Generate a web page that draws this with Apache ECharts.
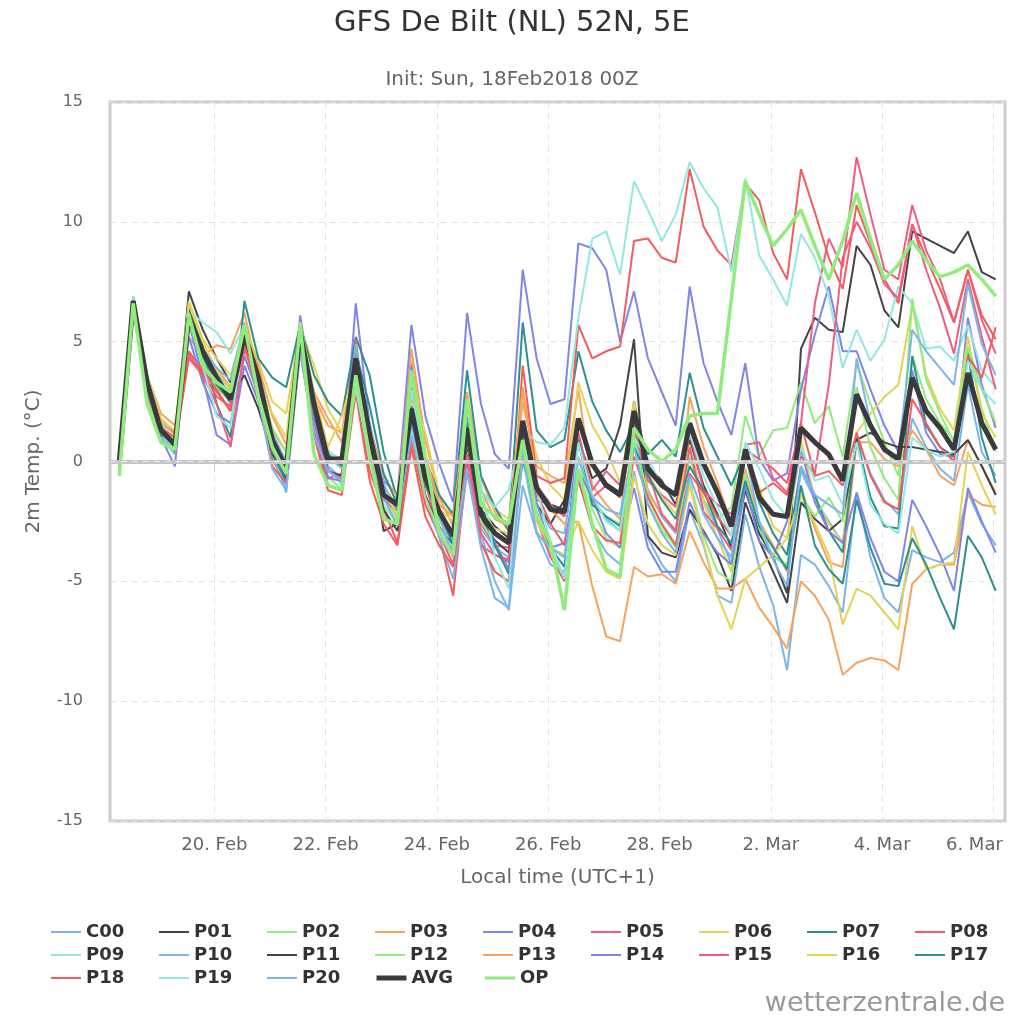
<!DOCTYPE html>
<html><head><meta charset="utf-8">
<script src="https://cdn.jsdelivr.net/npm/echarts@6/dist/echarts.min.js"></script>
<style>html,body{margin:0;padding:0;background:#fff}#c{width:1024px;height:1024px}</style>
</head><body><div id="c"></div>
<script>
// Init 18 Feb 2018 00Z = 01:00 local (UTC+1); x axis in hours since 18 Feb 00:00 local
const initLocalHour = 1;
const stepHours = 6;
const nSteps = 64;
const xTickHours = [48, 96, 144, 192, 240, 288, 336, 384];
const xTickLabels = ['20. Feb', '22. Feb', '24. Feb', '26. Feb', '28. Feb', '2. Mar', '4. Mar', '6. Mar'];

const C00 = [-0.2,6.8,3.0,1.1, 0.6,5.8,4.3,3.3, 2.4,5.0,3.9,1.2, 0.0,5.2,2.0,0.2, -0.3,4.6,1.0,-1.6, -2.0,2.8,-0.6,-2.4, -3.3,1.0,-2.8,-3.6, -4.0,1.2,-1.8,-2.8, -3.0,0.8,-1.5,-2.4, -2.9,1.2,-1.2,-2.3, -3.0,0.6,-1.6,-2.8, -4.3,-1.2,-3.0,-3.9, -4.4,-0.4,-1.6,-2.5, -3.4,1.0,-0.5,-1.6, -2.2,1.8,0.6,-0.3, -0.8,3.2,0.4,-0.6];
const P01 = [0.0,6.8,3.4,1.2, 0.7,7.1,5.5,4.3, 3.3,5.0,3.0,0.7, -0.5,5.6,2.3,0.0, 0.2,4.0,1.0,-2.9, -2.6,2.0,-0.8,-2.3, -3.0,1.0,-2.0,-2.7, -3.2,1.5,-1.0,-1.8, -2.0,1.6,0.0,-0.9, -1.3,2.5,-0.2,-0.8, -1.8,0.9,-1.0,-2.2, -3.6,-1.2,-3.0,-4.0, -5.5,4.7,6.0,5.5, 5.4,9.0,8.2,6.3, 5.6,9.6,9.3,9.0, 8.7,9.6,7.9,7.6];
const P02 = [-0.3,6.5,2.8,0.9, 0.5,6.0,4.2,3.1, 2.5,5.5,3.2,0.4, -0.6,5.9,1.8,-0.6, -1.2,4.5,0.6,-1.9, -2.5,3.6,-0.2,-2.4, -3.6,1.9,-1.6,-3.0, -3.3,0.4,-2.3,-3.6, -3.9,0.2,-2.0,-3.2, -3.6,0.8,-1.7,-2.9, -3.5,0.2,-1.6,-2.4, -1.9,1.9,0.2,1.3, 1.4,3.3,1.6,2.3, 0.2,4.1,2.4,0.8, -0.6,4.4,2.6,1.6, 0.9,4.6,2.2,0.4];
const P03 = [-0.1,6.6,3.6,2.0, 1.5,5.2,4.4,4.85, 4.7,6.2,3.6,1.3, 0.4,5.3,2.7,1.5, 1.2,4.8,0.8,-1.0, -1.9,4.7,0.9,-1.5, -2.7,2.9,-0.7,-2.1, -2.9,2.5,-0.2,-0.6, -0.9,3.0,-1.0,-1.8, -2.4,2.4,-1.3,-2.2, -2.9,2.7,0.6,-0.9, -2.6,-0.3,-2.5,-3.5, -4.6,-1.1,-2.8,-4.2, -4.4,0.8,0.8,0.1, -0.2,1.3,0.5,-0.6, -1.0,0.9,-0.2,-1.3];
const P04 = [-0.2,6.9,3.2,1.0, -0.2,5.8,3.5,1.1, 0.7,4.0,2.5,0.3, -0.8,6.1,2.5,-0.3, -0.9,6.6,1.5,-0.8, -1.4,5.7,1.9,-0.1, -1.7,6.2,2.4,0.3, -0.3,8.0,4.3,2.4, 2.6,9.1,8.9,8.0, 5.0,7.1,4.3,2.9, 1.5,7.3,4.1,2.5, 1.1,4.1,0.1,-0.8, -0.5,3.0,5.3,7.3, 4.6,4.6,3.0,1.5, 0.4,3.8,1.2,0.3, 0.2,6.0,3.2,1.4];
const P05 = [-0.1,6.4,3.0,1.5, 0.9,4.5,3.9,2.9, 2.1,5.2,3.0,0.2, -0.9,5.5,1.5,-0.7, -0.5,4.9,0.8,-1.3, -2.2,2.7,-0.9,-3.0, -4.3,0.6,-2.6,-3.5, -3.6,1.4,-1.6,-1.8, -2.3,1.0,-1.5,-1.0, -1.5,1.4,-0.8,-1.4, -1.9,1.2,-1.2,-1.8, -2.2,0.5,0.1,-0.3, -0.9,1.6,6.6,9.3, 8.1,12.7,10.3,8.0, 7.6,10.7,8.8,7.6, 5.8,8.0,5.9,4.5];
const P06 = [-0.2,6.5,3.6,1.8, 1.2,6.7,5.1,4.3, 3.6,5.6,4.2,2.5, 2.0,5.6,4.0,2.2, 1.2,3.4,0.4,-1.5, -2.4,2.9,1.2,-1.4, -2.3,1.6,-1.2,-2.0, -2.4,2.9,0.2,-1.0, -1.6,3.3,1.5,0.5, -0.9,2.5,-0.5,-1.5, -2.2,0.7,-1.7,-3.2, -4.6,0.3,-1.1,-2.7, -3.2,0.9,-1.6,-2.6, -3.4,1.2,2.0,2.7, 3.2,6.5,3.6,2.2, 1.3,5.2,2.0,1.0];
const P07 = [0.0,6.7,3.4,1.5, 0.8,6.4,4.8,2.4, 1.0,6.7,4.3,3.5, 3.1,5.7,3.6,2.5, 1.9,5.2,3.6,0.4, -1.6,3.9,0.1,-1.4, -2.2,3.8,-0.6,-1.9, -2.9,5.8,1.3,0.6, 0.9,4.6,2.5,1.3, 0.4,1.5,0.3,0.9, 0.2,3.7,1.4,0.2, -1.0,0.4,-1.7,-3.0, -3.9,-0.2,-1.4,-2.9, -3.8,1.0,-1.5,-2.7, -2.8,4.4,1.5,0.6, 0.2,4.5,1.0,-0.9];
const P08 = [0.0,6.6,3.3,1.6, 1.2,4.6,3.8,3.0, 2.1,4.9,2.6,0.1, -1.0,5.0,1.4,-1.0, -1.2,3.2,-0.4,-2.0, -3.4,0.9,-1.8,-3.1, -5.6,-0.1,-3.5,-3.9, -4.2,4.0,-0.6,-0.9, -0.7,5.7,4.3,4.6, 4.8,9.2,9.3,8.5, 8.3,12.2,9.8,8.8, 8.2,11.6,10.9,8.7, 7.6,12.2,10.4,8.5, 7.2,10.7,9.1,7.6, 6.6,9.9,8.5,7.2, 5.8,8.0,6.1,5.1];
const P09 = [-0.3,6.9,3.6,1.6, 0.9,6.3,5.8,5.4, 4.5,5.7,3.0,0.3, -1.1,5.8,1.5,-0.3, -1.0,3.2,0.0,-1.8, -2.6,1.4,-1.5,-2.8, -3.0,0.5,-1.2,-1.9, -1.2,1.4,0.8,0.7, 1.4,6.0,9.3,9.6, 7.8,11.7,10.5,9.2, 10.3,12.5,11.4,10.6, 7.9,11.8,8.6,7.6, 6.5,9.5,8.5,6.9, 3.9,5.5,4.2,5.1, 7.3,6.6,4.7,4.8, 4.2,5.7,3.8,3.1];
const P10 = [-0.1,6.6,3.1,1.0, 0.3,5.9,4.5,3.7, 3.0,5.1,3.6,0.5, -1.3,5.5,1.9,-0.2, -0.7,4.0,1.6,-0.9, -2.3,1.1,-1.4,-3.2, -4.9,-0.5,-3.0,-5.0, -6.2,-1.0,-3.0,-4.3, -4.6,-0.6,-2.8,-3.8, -4.3,-0.4,-3.2,-4.3, -5.0,-2.0,-3.5,-5.6, -5.9,-2.2,-4.4,-6.0, -8.7,-3.9,-4.3,-5.2, -6.3,-1.3,-4.0,-5.7, -6.3,-3.7,-4.0,-4.2, -3.8,-1.3,-2.6,-3.5];
const P11 = [0.0,6.6,3.0,1.1, 0.8,6.3,4.6,3.4, 2.8,3.6,2.2,0.3, -0.7,5.0,1.9,-0.4, -0.6,3.8,0.6,-2.0, -2.9,1.8,-1.4,-2.8, -3.5,0.7,-2.4,-3.3, -3.8,1.0,-1.8,-2.6, -1.6,0.9,-0.7,-0.3, 1.5,5.1,-3.1,-3.8, -4.0,-2.0,-2.9,-3.9, -5.4,-1.7,-3.3,-4.6, -5.9,-1.7,-2.4,-2.9, -2.4,0.9,1.2,0.8, 0.6,0.6,0.5,0.4, 0.3,0.9,-0.2,-1.4];
const P12 = [-0.4,6.5,2.6,0.8, 0.4,5.7,4.5,3.4, 2.7,5.4,3.5,1.4, 0.4,4.9,2.5,0.5, -0.3,3.7,1.0,-1.5, -2.3,1.7,-1.5,-2.9, -4.0,1.0,-2.5,-3.4, -4.5,0.1,-2.9,-3.8, -4.8,0.2,-1.6,-2.3, -2.6,1.0,-1.4,-2.7, -3.6,-0.8,-3.1,-4.6, -5.0,-0.5,-2.8,-4.0, -4.3,-1.4,-2.3,-1.5, -2.5,3.1,0.6,-0.7, -1.6,6.8,3.4,2.0, 0.8,4.8,3.0,1.6];
const P13 = [-0.3,6.7,3.4,1.7, 1.1,6.2,4.6,3.9, 3.1,5.4,4.0,1.9, 0.7,5.0,2.9,1.8, 0.8,4.5,1.4,-0.6, -1.5,4.2,0.3,-1.8, -2.3,2.4,-1.2,-2.4, -2.7,3.1,-0.9,-2.0, -2.6,-2.5,-5.2,-7.3, -7.5,-4.4,-4.8,-4.7, -5.1,-2.9,-4.2,-5.3, -5.3,-4.9,-6.1,-6.9, -7.8,-5.0,-5.6,-6.6, -8.9,-8.4,-8.2,-8.3, -8.7,-5.1,-4.5,-4.3, -4.3,-1.4,-1.8,-1.9];
const P14 = [-0.1,6.6,3.4,1.2, 0.4,5.2,3.3,2.0, 1.6,4.4,2.8,0.7, -0.6,5.5,1.7,-0.7, -0.8,3.5,0.9,-1.2, -2.0,4.0,0.0,-2.1, -3.2,1.9,-2.1,-3.4, -4.5,1.0,-1.7,-3.6, -3.4,-0.4,-1.5,-3.0, -3.6,-1.1,-3.6,-4.6, -4.6,-1.7,-3.0,-3.8, -4.3,-1.0,-3.3,-4.0, -2.5,0.5,-1.7,-2.9, -3.4,-1.3,-3.2,-4.6, -5.0,-1.6,-2.7,-3.9, -5.4,-1.1,-2.5,-3.8];
const P15 = [-0.2,6.5,2.8,1.3, 0.6,4.3,3.6,2.4, 0.6,4.7,3.1,0.4, -0.4,5.0,1.2,-0.4, -0.7,5.1,0.4,-1.6, -2.1,3.1,-0.6,-2.7, -3.7,0.3,-3.0,-3.9, -4.1,0.9,-2.4,-4.0, -5.0,1.2,-1.2,-0.4, -1.0,1.6,-0.4,-2.2, -2.9,0.6,-2.1,-2.8, -3.7,0.7,0.8,-0.7, -1.3,0.2,-0.5,3.2, 8.5,10.0,8.9,7.4, 6.8,9.9,8.0,6.4, 4.5,7.6,5.2,3.0];
const P16 = [-0.1,6.4,3.3,1.7, 1.3,6.6,5.0,3.8, 3.0,5.4,3.0,2.0, 1.0,5.8,2.9,0.6, 1.9,3.9,0.0,-1.3, -2.2,2.5,-0.3,-2.0, -2.5,0.9,-2.3,-2.8, -3.0,0.3,-2.5,-3.6, -3.9,-2.5,-3.7,-4.6, -4.9,-0.6,-2.6,-3.5, -3.9,-1.0,-3.4,-5.6, -7.0,-4.9,-4.4,-3.9, -3.2,-1.4,-2.6,-3.9, -6.8,-5.3,-5.6,-6.3, -7.0,-2.7,-4.5,-4.3, -4.2,0.4,-1.0,-2.2];
const P17 = [-0.2,6.5,3.0,1.2, 0.7,5.9,4.4,3.2, 2.5,5.6,3.4,0.5, -0.9,5.3,2.0,0.3, -0.2,4.6,2.3,-0.5, -1.8,2.3,-1.0,-2.1, -3.5,1.6,-2.0,-3.5, -4.7,0.1,-2.1,-3.6, -4.4,0.9,-1.8,-2.3, -2.7,0.6,-0.6,-1.6, -2.4,-0.2,-1.2,-2.7, -3.4,-0.8,-2.7,-3.6, -4.5,-1.0,-3.5,-4.5, -5.1,-1.6,-3.6,-5.1, -5.2,-3.2,-4.3,-5.7, -7.0,-3.1,-4.0,-5.4];
const P18 = [-0.1,6.7,3.5,1.4, 1.0,4.4,3.7,2.7, 2.3,5.1,2.7,-0.2, -0.9,4.6,1.1,-1.2, -1.4,2.9,-0.8,-2.6, -3.5,0.6,-2.3,-3.5, -4.4,-0.3,-3.4,-4.6, -5.0,0.5,-1.3,-2.6, -3.5,-0.8,-2.7,-3.3, -3.4,0.2,-1.5,-2.6, -3.5,-0.5,-1.3,-2.3, -3.1,0.2,-1.3,-0.9, -1.4,1.6,-0.6,-0.4, -1.0,1.2,-0.6,-1.7, -2.0,2.6,1.6,0.6, 0.0,4.4,3.5,5.6];
const P19 = [-0.1,6.6,3.1,1.2, 0.5,6.2,4.0,1.9, 1.4,5.6,3.4,0.9, -0.3,5.2,2.2,0.4, 0.1,3.0,0.3,-1.2, -1.8,3.0,-0.4,-2.8, -3.6,2.3,-1.0,-4.0, -5.3,1.6,-1.1,-3.4, -4.9,0.8,-1.4,-2.5, -2.9,1.0,0.1,-1.0, -1.5,1.2,-0.6,-1.9, -3.1,0.8,-0.3,-1.6, -2.3,0.6,-0.8,-0.6, -1.8,0.8,-1.8,-2.6, -3.0,1.0,0.5,0.2, 0.4,4.2,3.0,2.4];
const P20 = [-0.2,6.6,3.3,1.3, 0.6,6.0,4.7,3.9, 3.4,5.8,2.6,-0.3, -1.2,4.6,1.1,-0.4, -0.8,4.9,0.3,-1.5, -2.7,1.6,-0.9,-2.3, -4.0,-0.3,-3.6,-5.7, -6.1,0.4,-3.0,-3.6, -4.0,0.1,-1.5,-2.0, -2.2,0.6,-1.8,-3.0, -3.8,-0.6,-2.2,-3.2, -4.0,0.4,-2.5,-4.1, -5.2,-0.2,-1.4,-1.8, -2.2,4.3,1.6,0.4, 0.2,5.5,4.6,3.9, 3.2,7.4,4.9,3.6];
const AVG = [0.0,6.7,3.3,1.3, 0.7,6.0,4.6,3.5, 2.6,5.3,3.5,0.9, -0.3,5.4,2.4,0.1, 0.1,4.3,1.1,-1.4, -1.8,2.2,-0.7,-2.1, -3.1,1.4,-2.2,-3.0, -3.4,1.7,-1.1,-2.0, -2.1,1.8,-0.1,-1.0, -1.4,2.1,-0.3,-1.0, -1.4,1.6,-0.1,-1.3, -2.7,0.5,-1.5,-2.2, -2.3,1.4,0.8,0.3, -0.8,2.8,1.5,0.5, 0.1,3.5,2.1,1.4, 0.5,3.7,1.6,0.5];
const OP = [-0.6,6.6,2.4,0.8, 0.5,6.1,4.0,3.3, 2.9,5.7,2.7,0.6, -0.5,5.7,0.3,-1.0, -1.2,3.6,0.2,-2.4, -2.6,3.8,0.2,-3.0, -3.9,2.6,-1.8,-2.3, -2.6,0.9,-2.2,-3.4, -6.2,-0.3,-2.6,-4.5, -4.8,1.4,0.5,0.0, 0.5,1.9,2.0,2.0, 6.8,11.7,10.3,9.0, 9.7,10.5,9.0,7.6, 9.2,11.2,9.3,7.6, 8.2,9.2,8.4,7.7, 7.9,8.2,7.6,6.9];

const seriesNames = ['C00','P01','P02','P03','P04','P05','P06','P07','P08','P09','P10','P11','P12','P13','P14','P15','P16','P17','P18','P19','P20','AVG','OP'];
const seriesValues = [C00,P01,P02,P03,P04,P05,P06,P07,P08,P09,P10,P11,P12,P13,P14,P15,P16,P17,P18,P19,P20,AVG,OP];
const palette = ['#7cb5ec','#434348','#90ed7d','#f7a35c','#8085e9','#f15c80','#e4d354','#2b908f','#f45b5b','#91e8e1'];

const FONT = 'DejaVu Sans';
const hours = [];
for (let i = 0; i < nSteps; i++) hours.push(initLocalHour + stepHours * (i + 1));

function styleFor(name, k) {
  if (name === 'AVG') return {color: '#3a3a3e', width: 5};
  if (name === 'OP') return {color: '#90ed7d', width: 3.5};
  return {color: palette[k % 10], width: 2};
}

const series = [{
  name: 'zero', type: 'line', data: [], z: 1, silent: true,
  markLine: {
    silent: true, symbol: 'none', label: {show: false}, animation: false,
    data: [
      {yAxis: 0, lineStyle: {color: '#c6c6c6', width: 4, type: 'solid'}},
      {yAxis: 0, lineStyle: {color: '#ececec', width: 1, type: [6, 5]}}
    ]
  }
}];
seriesNames.forEach((name, k) => {
  const st = styleFor(name, k);
  series.push({
    name, type: 'line', symbol: 'none', showSymbol: false, animation: false,
    z: name === 'AVG' || name === 'OP' ? 4 : 3,
    lineStyle: {color: st.color, width: st.width}, itemStyle: {color: st.color},
    emphasis: {disabled: true},
    data: seriesValues[k].map((v, i) => [hours[i], v])
  });
});

const legendRows = [seriesNames.slice(0, 9), seriesNames.slice(9, 18), seriesNames.slice(18)];
const legends = legendRows.map((row, r) => ({
  data: row.map(name => {
    const st = styleFor(name, seriesNames.indexOf(name));
    return {name, lineStyle: {width: name === 'AVG' ? 5 : (name === 'OP' ? 3 : 2), color: st.color}};
  }),
  left: 50, top: 923 + r * 23, orient: 'horizontal', padding: 0,
  itemWidth: 30, itemHeight: 14, itemGap: 10, selectedMode: false,
  itemStyle: {color: 'transparent', borderColor: 'transparent', borderWidth: 0},
  formatter: '{t|{name}}',
  textStyle: {
    fontFamily: FONT, fontSize: 18, fontWeight: 'bold', color: '#333',
    rich: {t: {fontFamily: FONT, fontSize: 18, fontWeight: 'bold', color: '#333', width: 62, lineHeight: 20}}
  }
}));

const lastTick = xTickHours[xTickHours.length - 1];
const option = {
  backgroundColor: '#fff',
  animation: false,
  textStyle: {fontFamily: FONT},
  title: [
    {text: 'GFS De Bilt (NL) 52N, 5E', left: 'center', top: 4,
     textStyle: {fontFamily: FONT, fontSize: 29, fontWeight: 'normal', color: '#333'}},
    {text: 'Init: Sun, 18Feb2018 00Z', left: 'center', top: 65,
     textStyle: {fontFamily: FONT, fontSize: 20, fontWeight: 'normal', color: '#666'}}
  ],
  legend: legends,
  grid: {left: 110, right: 19, top: 102, bottom: 203, show: true, borderColor: '#cccccc', borderWidth: 3, backgroundColor: 'transparent'},
  xAxis: {
    type: 'value', min: 3, max: 389,
    name: 'Local time (UTC+1)', nameLocation: 'middle', nameGap: 47,
    nameTextStyle: {fontFamily: FONT, fontSize: 20, color: '#666'},
    axisLine: {show: false},
    axisTick: {show: true, length: 10, customValues: xTickHours, lineStyle: {color: '#cccccc'}},
    axisLabel: {
      customValues: xTickHours, margin: 15, fontSize: 18, color: '#666', fontFamily: FONT,
      formatter: (v) => {
        const idx = xTickHours.indexOf(v);
        const t = idx >= 0 ? xTickLabels[idx] : '';
        return v === lastTick ? '{r|' + t + '}' : t;
      },
      rich: {r: {fontSize: 18, color: '#666', fontFamily: FONT, padding: [0, 38, 0, 0]}}
    },
    splitLine: {show: true, lineStyle: {color: '#e3e3e3', type: [6, 5], width: 1}}
  },
  yAxis: {
    type: 'value', min: -15, max: 15, interval: 5,
    name: '2m Temp. (°C)', nameLocation: 'middle', nameGap: 66, nameRotate: 90,
    nameTextStyle: {fontFamily: FONT, fontSize: 20, color: '#666'},
    axisLine: {show: false}, axisTick: {show: false},
    axisLabel: {fontSize: 16, color: '#666', margin: 27, fontFamily: FONT},
    splitLine: {show: true, lineStyle: {color: '#e3e3e3', type: [6, 5], width: 1}}
  },
  graphic: [{
    type: 'text', right: 19, top: 990,
    style: {text: 'wetterzentrale.de', fontFamily: FONT, fontSize: 27, fill: '#999'}
  }],
  series
};
const chart = echarts.init(document.getElementById('c'), null, {renderer: 'canvas'});
chart.setOption(option);
</script></body></html>
